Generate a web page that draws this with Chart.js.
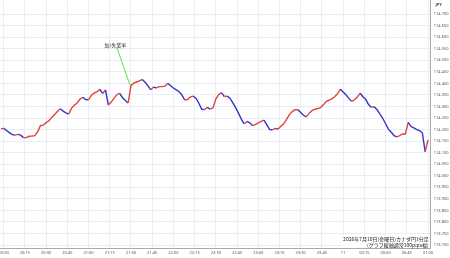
<!DOCTYPE html>
<html>
<head>
<meta charset="utf-8">
<script src="https://cdn.jsdelivr.net/npm/chart.js@4.4.1/dist/chart.umd.min.js"></script>
<style>
html,body{margin:0;padding:0;background:#fff;}
#wrap{width:450px;height:258px;}
</style>
</head>
<body>
<div id="wrap"><canvas id="myChart"></canvas></div>
<script>
// CAD/JPY 1-minute chart, values read every 2 minutes from 19:58
var startMinute = -2;
var stepMinutes = 2;
var rates = [
  114.204, 114.205, 114.196, 114.187, 114.178, 114.176, 114.179, 114.176, 114.165, 114.165,
  114.171, 114.172, 114.174, 114.190, 114.217, 114.219, 114.230, 114.238, 114.252, 114.265,
  114.278, 114.290, 114.280, 114.272, 114.267, 114.293, 114.305, 114.316, 114.332, 114.340,
  114.330, 114.329, 114.349, 114.358, 114.364, 114.374, 114.356, 114.372, 114.306, 114.319,
  114.335, 114.351, 114.357, 114.338, 114.326, 114.315, 114.391, 114.401, 114.406, 114.411,
  114.417, 114.405, 114.389, 114.372, 114.384, 114.380, 114.386, 114.386, 114.388, 114.400,
  114.390, 114.380, 114.372, 114.364, 114.350, 114.328, 114.330, 114.342, 114.345, 114.335,
  114.314, 114.288, 114.287, 114.296, 114.288, 114.294, 114.333, 114.351, 114.360, 114.343,
  114.345, 114.336, 114.316, 114.295, 114.271, 114.245, 114.225, 114.235, 114.229, 114.217,
  114.222, 114.229, 114.235, 114.241, 114.221, 114.200, 114.199, 114.205, 114.202, 114.214,
  114.225, 114.244, 114.265, 114.278, 114.286, 114.286, 114.274, 114.262, 114.255, 114.271,
  114.282, 114.288, 114.291, 114.295, 114.307, 114.321, 114.327, 114.333, 114.342, 114.355,
  114.375, 114.363, 114.351, 114.335, 114.322, 114.329, 114.341, 114.357, 114.342, 114.330,
  114.308, 114.296, 114.299, 114.286, 114.267, 114.249, 114.225, 114.202, 114.188, 114.174,
  114.168, 114.174, 114.181, 114.181, 114.231, 114.213, 114.207, 114.200, 114.195, 114.186,
  114.103, 114.155
];

var tickMinutes = [0,15,30,45,60,75,90,105,120,135,150,165,180,195,210,225,240,255,270,285,300];
var timeLabels = ["20:00","20:15","20:30","20:45","21:00","21:15","21:30","21:45","22:00","22:15","22:30",
  "22:45","23:00","23:15","23:30","23:45","11","00:15","00:30","00:45","01:00"];
var priceTicks = [113.70,113.75,113.80,113.85,113.90,113.95,114.00,114.05,114.10,114.15,114.20,
  114.25,114.30,114.35,114.40,114.45,114.50,114.55,114.60,114.65,114.70];

var noteText = "加)失業率";
var noteLabelAt = [79, 114.566];
var noteFrom = [80.1, 114.553];
var noteTo = [89.3, 114.393];
var footerLines = ["2026年7月10日(金曜日)カナダ円1分足", "(グラフ縦軸通常100pips幅)"];
var unitLabel = "JPY";

var upColor = '#e5413b';
var downColor = '#3333cc';

var points = [];
for (let i = 0; i < rates.length; i++) {
  points.push({x: startMinute + i * stepMinutes, y: rates[i]});
}

var extras = {
  id: 'extras',
  afterDatasetsDraw(chart) {
    var c = chart.ctx, xs = chart.scales.x, ys = chart.scales.y, area = chart.chartArea;
    c.save();
    // release note
    c.strokeStyle = '#66dd44';
    c.lineWidth = 1;
    c.beginPath();
    c.moveTo(xs.getPixelForValue(noteFrom[0]), ys.getPixelForValue(noteFrom[1]));
    c.lineTo(xs.getPixelForValue(noteTo[0]), ys.getPixelForValue(noteTo[1]));
    c.stroke();
    c.font = '5px "Noto Sans CJK JP"';
    c.fillStyle = '#333';
    c.textAlign = 'center';
    c.textBaseline = 'middle';
    c.fillText(noteText, xs.getPixelForValue(noteLabelAt[0]), ys.getPixelForValue(noteLabelAt[1]));
    // footer box
    var w = Math.max(c.measureText(footerLines[0]).width, c.measureText(footerLines[1]).width);
    c.fillStyle = '#fff';
    c.fillRect(area.right - w - 3, area.bottom - 13, w + 2, 12.5);
    c.fillStyle = '#222';
    c.textAlign = 'right';
    c.fillText(footerLines[0], area.right - 2, area.bottom - 9.5);
    c.fillText(footerLines[1], area.right - 2, area.bottom - 3.5);
    // unit
    c.font = 'bold 4px "Noto Sans"';
    c.fillStyle = '#444';
    c.textAlign = 'center';
    c.fillText(unitLabel, area.right + 8, 5);
    c.restore();
  }
};

var ctx = document.getElementById('myChart').getContext('2d');
var chart = new Chart(ctx, {
  type: 'line',
  data: {
    datasets: [{
      data: points,
      borderWidth: 1.4,
      pointRadius: 0,
      tension: 0,
      borderColor: downColor,
      segment: {
        borderColor: c => c.p1.parsed.y >= c.p0.parsed.y ? upColor : downColor
      }
    }]
  },
  options: {
    animation: false,
    responsive: true,
    maintainAspectRatio: false,
    devicePixelRatio: 1,
    layout: {padding: 0},
    plugins: {legend: {display: false}, tooltip: {enabled: false}},
    scales: {
      x: {
        type: 'linear',
        min: -2.6,
        max: 301.9,
        afterBuildTicks: s => { s.ticks = tickMinutes.map(v => ({value: v})); },
        afterFit: s => { s.height = 9.5; s.paddingLeft = 0; s.paddingRight = 0; },
        grid: {color: '#e8eef6', drawTicks: false},
        border: {color: '#aaa'},
        ticks: {
          autoSkip: false, maxRotation: 0, padding: 2,
          color: '#555', font: {size: 4, family: 'Noto Sans'},
          callback: v => timeLabels[tickMinutes.indexOf(v)]
        }
      },
      y: {
        position: 'right',
        min: 113.685,
        max: 114.761,
        afterBuildTicks: s => { s.ticks = priceTicks.map(v => ({value: v})); },
        afterFit: s => { s.width = 19.3; s.paddingTop = 0; s.paddingBottom = 0; },
        grid: {color: '#e8eef6', drawTicks: false},
        border: {color: '#aaa'},
        ticks: {
          padding: 3, color: '#555', font: {size: 4, family: 'Noto Sans'},
          callback: v => v.toFixed(3)
        }
      }
    }
  },
  plugins: [extras]
});
</script>
</body>
</html>
